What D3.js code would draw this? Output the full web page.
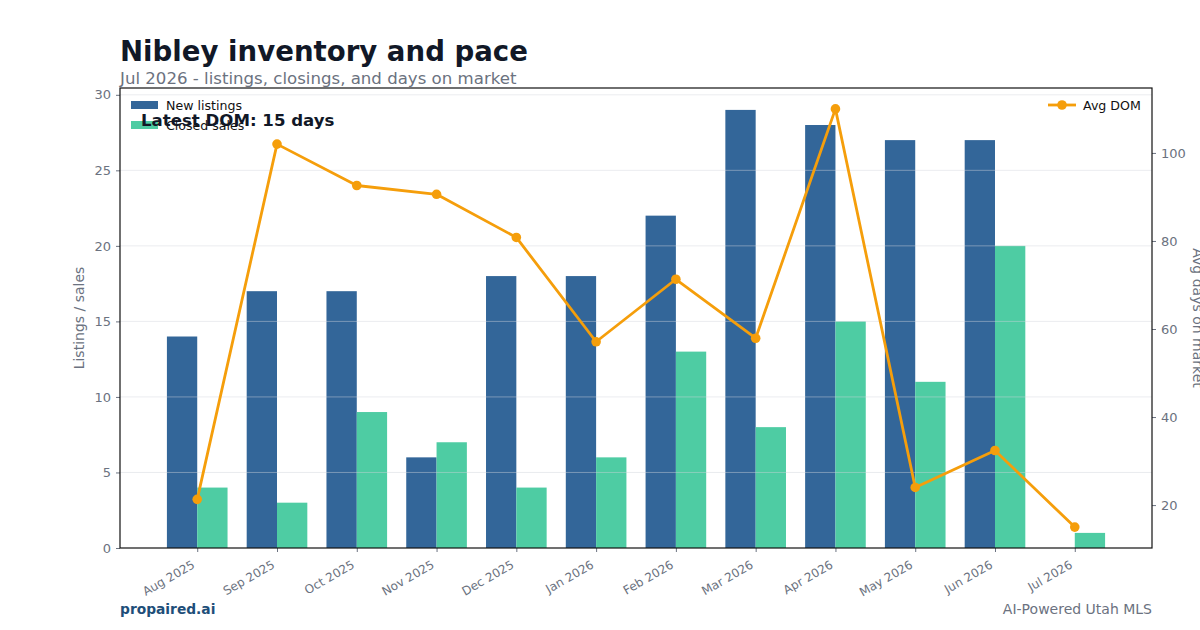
<!DOCTYPE html>
<html><head><meta charset="utf-8">
<script src="https://cdn.jsdelivr.net/npm/d3@7"></script>
<style>
body{margin:0;background:#fff;}
text{font-family:"DejaVu Sans",sans-serif;}
</style></head>
<body><svg id="c" width="1200" height="630"></svg>
<script>
const months = ["Aug 2025","Sep 2025","Oct 2025","Nov 2025","Dec 2025","Jan 2026","Feb 2026","Mar 2026","Apr 2026","May 2026","Jun 2026","Jul 2026"];
const newListings = [14,17,17,6,18,18,22,29,28,27,27,0];
const closedSales = [4,3,9,7,4,6,13,8,15,11,20,1];
const avgDom = [21.3,102,92.6,90.6,80.8,57.1,71.3,57.9,110,24,32.4,15];
const leftTicks = [0,5,10,15,20,25,30];
const rightTicks = [20,40,60,80,100];

const svg = d3.select("#c");
const L=120,R=1152,T=88,B=548;
const bw=0.38;
const x = d3.scaleLinear().domain([-0.968, 11.968]).range([L,R]);
const yL = d3.scaleLinear().domain([0, 30.45]).range([B,T]);
const dmin=d3.min(avgDom), dmax=d3.max(avgDom), pad=(dmax-dmin)*0.05;
const yR = d3.scaleLinear().domain([dmin-pad, dmax+pad]).range([B,T]);
const gray="#6b7280";

// bars
svg.append("g").selectAll("rect").data(newListings).join("rect")
  .attr("x",(d,i)=>x(i-bw)).attr("width",(d,i)=>x(i)-x(i-bw))
  .attr("y",d=>yL(d)).attr("height",d=>B-yL(d)).attr("fill","#336699");
svg.append("g").selectAll("rect").data(closedSales).join("rect")
  .attr("x",(d,i)=>x(i)).attr("width",(d,i)=>x(i+bw)-x(i))
  .attr("y",d=>yL(d)).attr("height",d=>B-yL(d)).attr("fill","#4ecca3");

// grid
svg.append("g").selectAll("line").data(leftTicks.filter(t=>t>0)).join("line")
  .attr("x1",L).attr("x2",R).attr("y1",d=>yL(d)).attr("y2",d=>yL(d))
  .attr("stroke","#d1d5db").attr("stroke-opacity",0.45).attr("stroke-width",1);

// axes
const ax=(g)=>{g.selectAll("text").attr("fill",gray).style("font-size","13px").style("font-family","DejaVu Sans");g.selectAll(".tick line").attr("stroke",gray);g.select(".domain").remove();};
svg.append("g").attr("transform",`translate(${L},0)`).call(d3.axisLeft(yL).tickValues(leftTicks).tickSize(4).tickPadding(5)).call(ax);
svg.append("g").attr("transform",`translate(${R},0)`).call(d3.axisRight(yR).tickValues(rightTicks).tickSize(4).tickPadding(5)).call(ax);
const xa=svg.append("g").attr("transform",`translate(0,${B})`).call(d3.axisBottom(x).tickValues(d3.range(months.length)).tickFormat(i=>months[i]).tickSize(4).tickPadding(4)).call(ax);
xa.selectAll("text").attr("text-anchor","end").attr("transform","translate(-9,7) rotate(-30)").attr("dy","0.5em").style("font-size","12px");

// frame
svg.append("rect").attr("x",L).attr("y",T).attr("width",R-L).attr("height",B-T).attr("fill","none").attr("stroke","#111").attr("stroke-width",1.2);

// line
const line=d3.line().x((d,i)=>x(i)).y(d=>yR(d));
svg.append("path").datum(avgDom).attr("d",line).attr("fill","none").attr("stroke","#f59e0b").attr("stroke-width",2.8).attr("stroke-linejoin","round");
svg.append("g").selectAll("circle").data(avgDom).join("circle")
  .attr("cx",(d,i)=>x(i)).attr("cy",d=>yR(d)).attr("r",4.8).attr("fill","#f59e0b");

// axis labels
svg.append("text").attr("transform",`translate(84,${(T+B)/2}) rotate(-90)`).attr("text-anchor","middle")
  .attr("fill",gray).style("font-size","14px").text("Listings / sales");
svg.append("text").attr("transform",`translate(1193,${(T+B)/2}) rotate(90)`).attr("text-anchor","middle")
  .attr("fill",gray).style("font-size","14px").text("Avg days on market");

// legends
const lg=svg.append("g");
lg.append("rect").attr("x",131).attr("y",101).attr("width",27).attr("height",8).attr("fill","#336699");
lg.append("text").attr("x",166).attr("y",110).style("font-size","12.6px").attr("fill","#111").text("New listings");
lg.append("rect").attr("x",131).attr("y",121).attr("width",27).attr("height",8).attr("fill","#4ecca3");
lg.append("text").attr("x",166).attr("y",130).style("font-size","12.6px").attr("fill","#111").text("Closed sales");
lg.append("line").attr("x1",1048).attr("x2",1076).attr("y1",105).attr("y2",105).attr("stroke","#f59e0b").attr("stroke-width",2.8);
lg.append("circle").attr("cx",1062).attr("cy",105).attr("r",4.8).attr("fill","#f59e0b");
lg.append("text").attr("x",1083).attr("y",110).style("font-size","12.6px").attr("fill","#111").text("Avg DOM");

// annotation
svg.append("text").attr("x",141).attr("y",126).style("font-size","16.6px").style("font-weight","bold").attr("fill","#111827").text("Latest DOM: "+avgDom[avgDom.length-1]+" days");

// titles
svg.append("text").attr("x",120).attr("y",61).style("font-size","27.6px").style("font-weight","bold").attr("fill","#111827").text("Nibley inventory and pace");
svg.append("text").attr("x",120).attr("y",84).style("font-size","16.6px").attr("fill",gray).text("Jul 2026 - listings, closings, and days on market");

// footer
svg.append("text").attr("x",120).attr("y",614).style("font-size","13.8px").style("font-weight","bold").attr("fill","#1e4e79").text("propaired.ai");
svg.append("text").attr("x",1152).attr("y",614).attr("text-anchor","end").style("font-size","14px").attr("fill",gray).text("AI-Powered Utah MLS");
</script></body></html>
